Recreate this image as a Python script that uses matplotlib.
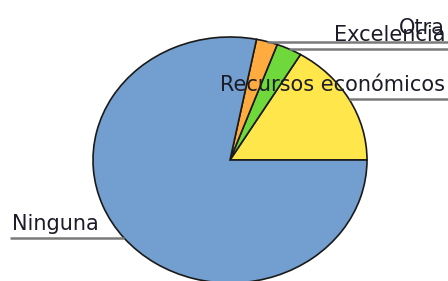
import numpy as np
import matplotlib
matplotlib.use("Agg")
import matplotlib.pyplot as plt

categories = ["Recursos económicos", "Excelencia", "Otra", "Ninguna"]
values = [16.4, 3.0, 2.5, 78.1]
colors = ["#ffe64a", "#6fd83a", "#ffab40", "#729fcf"]

W, H = 448, 281
CX, CY = 230, 160      # pie centre, pixels
RX, RY = 137, 123      # pie radii, pixels

fig = plt.figure(figsize=(W / 100, H / 100), dpi=100)
ax = fig.add_axes([0, 0, 1, 1])

wedges, _ = ax.pie(values, colors=colors, startangle=0, counterclock=True,
                   wedgeprops=dict(edgecolor="#1a1a1a", linewidth=1.2))
ax.set_aspect("auto")


def px2x(px):
    return (px - CX) / RX


def py2y(py):
    return (CY - py) / RY


ax.set_xlim(px2x(0), px2x(W))
ax.set_ylim(py2y(H), py2y(0))
ax.axis("off")

off = 8 / RY
for w, lab in zip(wedges, categories):
    m = np.deg2rad((w.theta1 + w.theta2) / 2)
    x0, y0 = np.cos(m), np.sin(m)
    if x0 >= 0:
        ax.plot([x0, px2x(W)], [y0, y0], color="#7a7a7a", lw=1.8,
                solid_capstyle="butt")
        ax.text(px2x(445), y0 + off, lab, ha="right", va="baseline",
                fontsize=15, color="#1c1c28")
    else:
        ax.plot([px2x(10), x0], [y0, y0], color="#7a7a7a", lw=1.8,
                solid_capstyle="butt")
        ax.text(px2x(12), y0 + off, lab, ha="left", va="baseline",
                fontsize=15, color="#1c1c28")

fig.savefig("out.png", dpi=100)
